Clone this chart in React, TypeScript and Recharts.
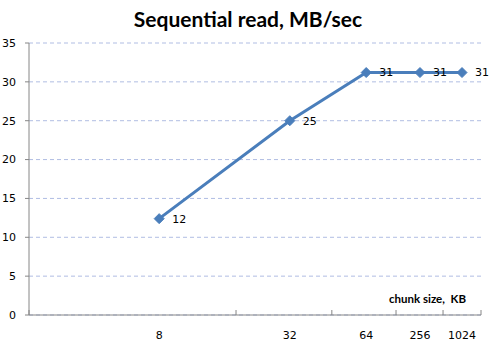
import { LineChart, Line, XAxis, YAxis, CartesianGrid, LabelList } from 'recharts';

// chunk sizes in KB, with their slot on a 0..100 horizontal scale
const chunkLabels = ['8', '32', '64', '256', '1024'];
const chunkSlot = [28.8, 57.7, 74.6, 86.5, 95.8];
const slotEdges = [0, 45.8, 67.0, 81.2, 91.6, 100];
const readSpeed = [12.4, 25, 31.2, 31.2, 31.2];
const yTicks = [0, 5, 10, 15, 20, 25, 30, 35];

const data = chunkLabels.map((label, i) => ({
  label,
  slot: chunkSlot[i],
  speed: readSpeed[i],
}));

const AXIS = '#868686';
const LINE = '#4a7ebb';
const tickFont = { fontFamily: 'DejaVu Sans', fontSize: 11, fill: '#000' };

const Diamond = (props: any) => {
  const { cx, cy } = props;
  if (cx == null || cy == null) return null;
  const r = 5;
  return (
    <polygon
      points={`${cx},${cy - r} ${cx + r},${cy} ${cx},${cy + r} ${cx - r},${cy}`}
      fill={LINE}
      stroke={LINE}
    />
  );
};

// tick mark only, drawn down from the axis line
const EdgeTick = (props: any) => {
  const { x, y } = props;
  return <line x1={x} x2={x} y1={y - 5} y2={y} stroke={AXIS} />;
};

export default function App() {
  return (
    <div style={{ position: 'absolute', left: 0, top: 0, width: 494, height: 359, background: '#fff' }}>
      <div
        style={{
          position: 'absolute',
          left: 0,
          width: 496,
          top: 6,
          textAlign: 'center',
          fontFamily: 'Lato',
          fontWeight: 'bold',
          fontSize: 21,
          color: '#000',
        }}
      >
        Sequential read, MB/sec
      </div>
      <div
        style={{
          position: 'absolute',
          left: 389,
          top: 292,
          fontFamily: 'Lato',
          fontWeight: 'bold',
          fontSize: 11.5,
          color: '#000',
        }}
      >
        chunk size,&nbsp; KB
      </div>
      <LineChart width={494} height={359} data={data} margin={{ top: 43, right: 13, bottom: 14, left: 5 }}>
        <CartesianGrid vertical={false} stroke="#b0bde3" strokeDasharray="4 3" />
        <XAxis
          xAxisId="edges"
          dataKey="slot"
          type="number"
          domain={[0, 100]}
          ticks={slotEdges}
          tick={<EdgeTick />}
          tickLine={false}
          height={5}
          stroke={AXIS}
          tickSize={0}
          tickMargin={0}
          interval={0}
        />
        <XAxis
          xAxisId="labels"
          dataKey="slot"
          type="number"
          domain={[0, 100]}
          ticks={chunkSlot}
          tickFormatter={(v: number) => chunkLabels[chunkSlot.indexOf(v)] ?? ''}
          axisLine={false}
          tickLine={false}
          tickSize={0}
          tickMargin={11}
          height={25}
          tick={tickFont}
          interval={0}
        />
        <YAxis
          domain={[0, 35]}
          ticks={yTicks}
          width={24}
          stroke={AXIS}
          tickSize={4}
          tickMargin={9}
          tick={tickFont}
          interval={0}
        />
        <Line
          xAxisId="labels"
          dataKey="speed"
          stroke={LINE}
          strokeWidth={3}
          dot={<Diamond />}
          activeDot={false}
          isAnimationActive={false}
        >
          <LabelList
            dataKey="speed"
            position="right"
            offset={13}
            formatter={(v: any) => Math.round(Number(v))}
            style={{ fontFamily: 'DejaVu Sans', fontSize: 11, fill: '#000' }}
          />
        </Line>
      </LineChart>
    </div>
  );
}
